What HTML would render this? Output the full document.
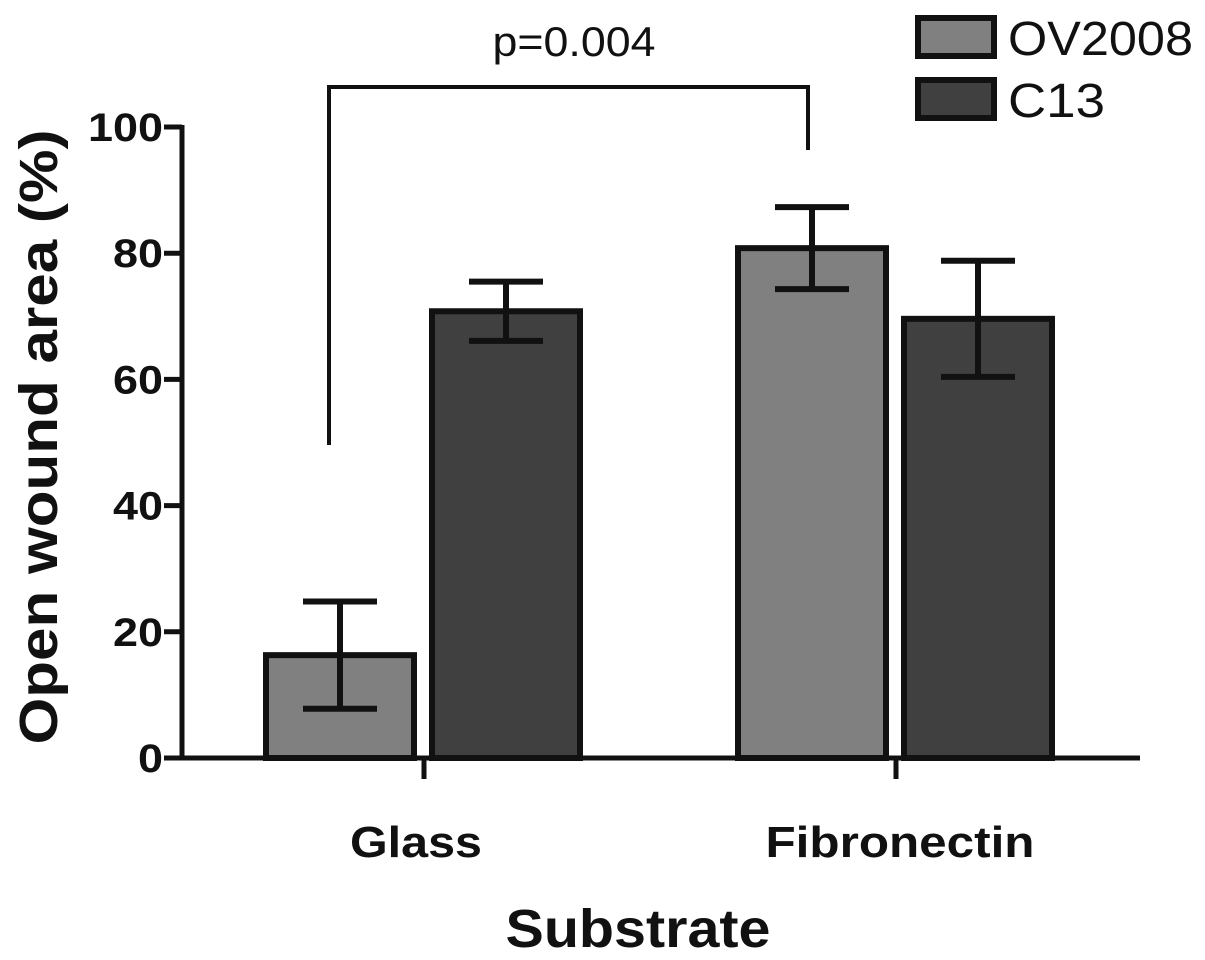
<!DOCTYPE html>
<html><head><meta charset="utf-8"><style>
html,body{margin:0;padding:0;background:#fff;}
svg{display:block;font-family:"Liberation Sans",Arial,sans-serif;}
</style></head><body>
<svg id="chart" width="1205" height="960" viewBox="0 0 1205 960">
<g id="axes"></g>
<g id="bars"></g>
<g id="annot"></g>
</svg>
<script>
const categories = ["Glass", "Fibronectin"];
const seriesNames = ["OV2008", "C13"];
const ov2008Values = [16.3, 80.8];
const ov2008Err = [8.5, 6.5];
const c13Values = [70.8, 69.6];
const c13Err = [4.7, 9.2];
const yTicks = [0, 20, 40, 60, 80, 100];
const pLabel = "p=0.004";

const NS = "http://www.w3.org/2000/svg";
const y0 = 758, y100 = 127;
function yScale(v){ return y0 - (v/100)*(y0-y100); }
const catCenters = [424, 896];
function xCat(i){ return catCenters[i]; }
const colors = ["#808080", "#404040"];
function mk(tag, attrs, parent){
  const e = document.createElementNS(NS, tag);
  for (const k in attrs) e.setAttribute(k, attrs[k]);
  parent.appendChild(e); return e;
}
const axes = document.getElementById('axes');
const bars = document.getElementById('bars');
const annot = document.getElementById('annot');

let yl = mk('line',{x1:182,y1:125,x2:182,y2:760,stroke:'#111','stroke-width':5},axes);


let xl = mk('line',{x1:165,y1:758,x2:1140,y2:758,stroke:'#111','stroke-width':5},axes);



yTicks.forEach(t=>{
  const y = yScale(t);
  const tk = mk('line',{x1:164,y1:y,x2:182,y2:y,stroke:'#111','stroke-width':5},axes);
  
  
  const s = String(t);
  const tx = mk('text',{x:163,y:y+14,'text-anchor':'end','font-size':40,'font-weight':'bold',fill:'#111',textLength:25*s.length,lengthAdjust:'spacingAndGlyphs'},axes);
  tx.textContent = s;
  
  
});
const xLabelCenters = [416, 900];
const xLabelWidths = [132, 269];
categories.forEach((c,i)=>{
  const x = xCat(i);
  const tk = mk('line',{x1:x,y1:758,x2:x,y2:779,stroke:'#111','stroke-width':5},axes);
  
  
  const tx = mk('text',{x:xLabelCenters[i],y:857,'text-anchor':'middle','font-size':44,'font-weight':'bold',fill:'#111',textLength:xLabelWidths[i],lengthAdjust:'spacingAndGlyphs'},axes);
  tx.textContent = c;
  
  
});
let xt = mk('text',{x:638,y:947,'text-anchor':'middle','font-size':54,'font-weight':'bold',fill:'#111',textLength:265,lengthAdjust:'spacingAndGlyphs'},axes);
xt.textContent = 'Substrate';


let yt = mk('text',{x:0,y:0,'text-anchor':'middle','font-size':54,'font-weight':'bold',fill:'#111',textLength:615,lengthAdjust:'spacingAndGlyphs',transform:'translate(57,437) rotate(-90)'},axes);
yt.textContent = 'Open wound area (%)';



const barW = 148, offsets = [-84, 82];
const allVals = [ov2008Values, c13Values], allErr = [ov2008Err, c13Err];
allVals.forEach((vals, s)=>{
  vals.forEach((v,i)=>{
    const cx = xCat(i) + offsets[s];
    const top = yScale(v);
    const r = mk('rect',{x:cx-barW/2,y:top,width:barW,height:y0-top,fill:colors[s],stroke:'#111','stroke-width':6},bars);
    
    
    const e = allErr[s][i];
    const yHi = yScale(v+e), yLo = yScale(v-e);
    const g = mk('g',{stroke:'#111','stroke-width':6},bars);
    
    
    mk('line',{x1:cx,y1:yHi,x2:cx,y2:yLo},g);
    mk('line',{x1:cx-37,y1:yHi,x2:cx+37,y2:yHi},g);
    mk('line',{x1:cx-37,y1:yLo,x2:cx+37,y2:yLo},g);
  });
});

let br = mk('polyline',{points:'329,445 329,87 808,87 808,150',fill:'none',stroke:'#111','stroke-width':4},annot);


let pt = mk('text',{x:574,y:56,'text-anchor':'middle','font-size':42,fill:'#111',textLength:163,lengthAdjust:'spacingAndGlyphs'},annot);
pt.textContent = pLabel;



const legendWidths = [185, 97];
seriesNames.forEach((n,s)=>{
  const y = 18 + s*62;
  const g = mk('g',{},annot);
  
  
  mk('rect',{x:918,y:y,width:76,height:38,fill:colors[s],stroke:'#111','stroke-width':6},g);
  const t = mk('text',{x:1008,y:y+37,'font-size':48,fill:'#111',textLength:legendWidths[s],lengthAdjust:'spacingAndGlyphs'},g);
  t.textContent = n;
});
</script>
</body></html>
